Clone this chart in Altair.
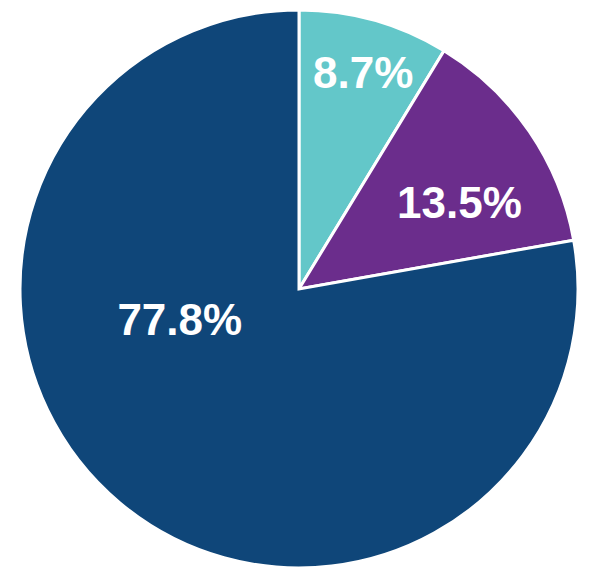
import altair as alt
import pandas as pd

categories = ["A", "B", "C"]
values = [8.7, 13.5, 77.8]
labels = ["8.7%", "13.5%", "77.8%"]
colors = ["#63C7C9", "#6B2D8C", "#0F4679"]

df = pd.DataFrame({"cat": categories, "value": values, "label": labels, "order": [0, 1, 2]})

pie = alt.Chart(df).mark_arc(outerRadius=279, stroke="white", strokeWidth=3).encode(
    theta=alt.Theta("value:Q", stack=True),
    order=alt.Order("order:Q"),
    color=alt.Color("cat:N", scale=alt.Scale(domain=categories, range=colors), legend=None),
)

offsets = {"A": (223, 4, 1), "B": (181, 11, 18), "C": (100, -55, -44)}
layers = [pie]
for c in categories:
    r, dx, dy = offsets[c]
    layers.append(
        alt.Chart(df)
        .transform_stack(stack="value", groupby=[], as_=["v0", "v1"], sort=[alt.SortField("order")])
        .transform_calculate(mid="(datum.v0 + datum.v1) / 2")
        .transform_filter(alt.datum.cat == c)
        .mark_text(radius=r, dx=dx, dy=dy, fontSize=44, fontWeight="bold",
                   font="Liberation Sans", color="white", baseline="middle", align="center")
        .encode(
            theta=alt.Theta("mid:Q", scale=alt.Scale(domain=[0, 100], range=[0, 6.283185307179586])),
            text="label:N",
        )
    )

chart = alt.layer(*layers).resolve_scale(theta="independent").properties(
    width=582, height=562, padding=0,
    autosize=alt.AutoSizeParams(type="none")).configure_view(stroke=None)
chart.save("out.html", embed_options={"renderer": "svg", "actions": False})
